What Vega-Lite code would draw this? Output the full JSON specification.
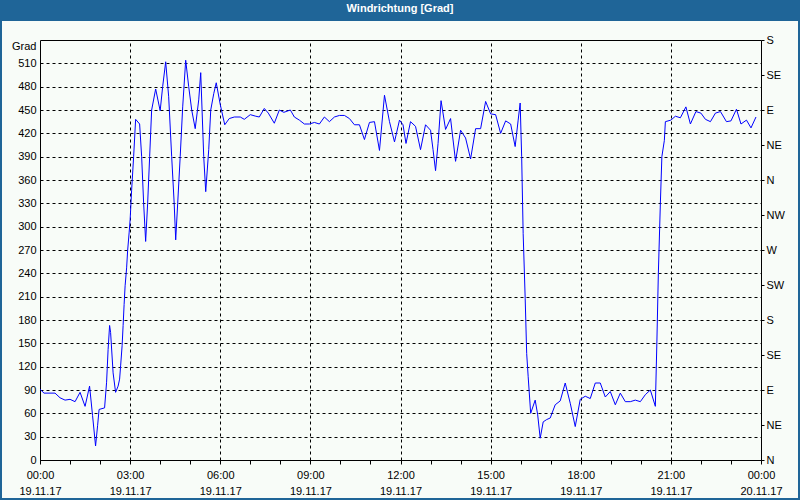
{
  "$schema": "https://vega.github.io/schema/vega-lite/v6.json",
  "background": "#1f6598",
  "autosize": {"type": "none"},
  "padding": {"left": 2, "right": 2, "top": 21, "bottom": 2},
  "width": 796,
  "height": 477,
  "view": {"fill": "#f8fcf8", "stroke": null},
  "config": {"font": "Liberation Sans"},
  "title": {
    "text": "Windrichtung [Grad]",
    "color": "white", "font": "Liberation Sans", "fontSize": 11, "fontWeight": "bold",
    "anchor": "middle", "baseline": "middle", "offset": 1
  },
  "data": {"values": [
    {"t": "2017-11-19T00:00:00", "v": 91},
    {"t": "2017-11-19T00:08:00", "v": 86},
    {"t": "2017-11-19T00:30:00", "v": 86},
    {"t": "2017-11-19T00:40:00", "v": 80},
    {"t": "2017-11-19T00:50:00", "v": 77},
    {"t": "2017-11-19T01:00:00", "v": 78},
    {"t": "2017-11-19T01:10:00", "v": 75},
    {"t": "2017-11-19T01:20:00", "v": 87},
    {"t": "2017-11-19T01:30:00", "v": 69},
    {"t": "2017-11-19T01:39:00", "v": 95},
    {"t": "2017-11-19T01:45:00", "v": 57},
    {"t": "2017-11-19T01:51:00", "v": 18},
    {"t": "2017-11-19T01:55:00", "v": 44},
    {"t": "2017-11-19T01:58:00", "v": 65},
    {"t": "2017-11-19T02:09:00", "v": 67},
    {"t": "2017-11-19T02:13:00", "v": 100},
    {"t": "2017-11-19T02:16:00", "v": 142},
    {"t": "2017-11-19T02:19:00", "v": 173},
    {"t": "2017-11-19T02:21:00", "v": 164},
    {"t": "2017-11-19T02:26:00", "v": 112},
    {"t": "2017-11-19T02:31:00", "v": 87},
    {"t": "2017-11-19T02:36:00", "v": 95},
    {"t": "2017-11-19T02:39:00", "v": 104},
    {"t": "2017-11-19T02:41:00", "v": 121},
    {"t": "2017-11-19T02:44:00", "v": 147},
    {"t": "2017-11-19T02:46:00", "v": 173},
    {"t": "2017-11-19T02:48:00", "v": 200},
    {"t": "2017-11-19T02:50:00", "v": 224},
    {"t": "2017-11-19T02:53:00", "v": 247},
    {"t": "2017-11-19T02:55:00", "v": 269},
    {"t": "2017-11-19T02:58:00", "v": 292},
    {"t": "2017-11-19T03:00:00", "v": 309},
    {"t": "2017-11-19T03:03:00", "v": 347},
    {"t": "2017-11-19T03:07:00", "v": 390},
    {"t": "2017-11-19T03:11:00", "v": 438},
    {"t": "2017-11-19T03:19:00", "v": 432},
    {"t": "2017-11-19T03:23:00", "v": 390},
    {"t": "2017-11-19T03:27:00", "v": 330},
    {"t": "2017-11-19T03:31:00", "v": 281},
    {"t": "2017-11-19T03:35:00", "v": 330},
    {"t": "2017-11-19T03:39:00", "v": 390},
    {"t": "2017-11-19T03:43:00", "v": 450},
    {"t": "2017-11-19T03:51:00", "v": 477},
    {"t": "2017-11-19T04:00:00", "v": 449},
    {"t": "2017-11-19T04:05:00", "v": 480},
    {"t": "2017-11-19T04:11:00", "v": 512},
    {"t": "2017-11-19T04:17:00", "v": 467},
    {"t": "2017-11-19T04:23:00", "v": 390},
    {"t": "2017-11-19T04:28:00", "v": 330},
    {"t": "2017-11-19T04:31:00", "v": 283},
    {"t": "2017-11-19T04:35:00", "v": 330},
    {"t": "2017-11-19T04:40:00", "v": 390},
    {"t": "2017-11-19T04:45:00", "v": 454},
    {"t": "2017-11-19T04:51:00", "v": 514},
    {"t": "2017-11-19T04:57:00", "v": 480},
    {"t": "2017-11-19T05:03:00", "v": 450},
    {"t": "2017-11-19T05:10:00", "v": 426},
    {"t": "2017-11-19T05:17:00", "v": 463},
    {"t": "2017-11-19T05:21:00", "v": 498},
    {"t": "2017-11-19T05:27:00", "v": 390},
    {"t": "2017-11-19T05:31:00", "v": 345},
    {"t": "2017-11-19T05:37:00", "v": 399},
    {"t": "2017-11-19T05:41:00", "v": 450},
    {"t": "2017-11-19T05:47:00", "v": 471},
    {"t": "2017-11-19T05:52:00", "v": 485},
    {"t": "2017-11-19T06:00:00", "v": 457},
    {"t": "2017-11-19T06:09:00", "v": 431},
    {"t": "2017-11-19T06:18:00", "v": 439},
    {"t": "2017-11-19T06:28:00", "v": 441},
    {"t": "2017-11-19T06:40:00", "v": 441},
    {"t": "2017-11-19T06:48:00", "v": 438},
    {"t": "2017-11-19T07:00:00", "v": 444},
    {"t": "2017-11-19T07:11:00", "v": 442},
    {"t": "2017-11-19T07:18:00", "v": 441},
    {"t": "2017-11-19T07:28:00", "v": 452},
    {"t": "2017-11-19T07:36:00", "v": 446},
    {"t": "2017-11-19T07:48:00", "v": 433},
    {"t": "2017-11-19T07:58:00", "v": 450},
    {"t": "2017-11-19T08:07:00", "v": 447},
    {"t": "2017-11-19T08:20:00", "v": 450},
    {"t": "2017-11-19T08:28:00", "v": 441},
    {"t": "2017-11-19T08:38:00", "v": 437},
    {"t": "2017-11-19T08:48:00", "v": 432},
    {"t": "2017-11-19T08:58:00", "v": 432},
    {"t": "2017-11-19T09:08:00", "v": 434},
    {"t": "2017-11-19T09:18:00", "v": 432},
    {"t": "2017-11-19T09:28:00", "v": 441},
    {"t": "2017-11-19T09:38:00", "v": 435},
    {"t": "2017-11-19T09:48:00", "v": 441},
    {"t": "2017-11-19T09:58:00", "v": 443},
    {"t": "2017-11-19T10:08:00", "v": 443},
    {"t": "2017-11-19T10:18:00", "v": 439},
    {"t": "2017-11-19T10:28:00", "v": 431},
    {"t": "2017-11-19T10:38:00", "v": 431},
    {"t": "2017-11-19T10:48:00", "v": 412},
    {"t": "2017-11-19T10:58:00", "v": 434},
    {"t": "2017-11-19T11:08:00", "v": 435},
    {"t": "2017-11-19T11:18:00", "v": 398},
    {"t": "2017-11-19T11:28:00", "v": 469},
    {"t": "2017-11-19T11:38:00", "v": 435},
    {"t": "2017-11-19T11:48:00", "v": 409},
    {"t": "2017-11-19T11:58:00", "v": 437},
    {"t": "2017-11-19T12:05:00", "v": 431},
    {"t": "2017-11-19T12:11:00", "v": 407},
    {"t": "2017-11-19T12:20:00", "v": 435},
    {"t": "2017-11-19T12:30:00", "v": 429},
    {"t": "2017-11-19T12:40:00", "v": 399},
    {"t": "2017-11-19T12:50:00", "v": 431},
    {"t": "2017-11-19T13:00:00", "v": 424},
    {"t": "2017-11-19T13:05:00", "v": 399},
    {"t": "2017-11-19T13:10:00", "v": 372},
    {"t": "2017-11-19T13:15:00", "v": 407},
    {"t": "2017-11-19T13:21:00", "v": 462},
    {"t": "2017-11-19T13:30:00", "v": 425},
    {"t": "2017-11-19T13:40:00", "v": 439},
    {"t": "2017-11-19T13:50:00", "v": 384},
    {"t": "2017-11-19T14:00:00", "v": 424},
    {"t": "2017-11-19T14:10:00", "v": 414},
    {"t": "2017-11-19T14:20:00", "v": 387},
    {"t": "2017-11-19T14:30:00", "v": 426},
    {"t": "2017-11-19T14:40:00", "v": 426},
    {"t": "2017-11-19T14:50:00", "v": 461},
    {"t": "2017-11-19T15:00:00", "v": 445},
    {"t": "2017-11-19T15:10:00", "v": 444},
    {"t": "2017-11-19T15:20:00", "v": 420},
    {"t": "2017-11-19T15:30:00", "v": 436},
    {"t": "2017-11-19T15:40:00", "v": 432},
    {"t": "2017-11-19T15:49:00", "v": 403},
    {"t": "2017-11-19T15:52:00", "v": 420},
    {"t": "2017-11-19T15:55:00", "v": 437},
    {"t": "2017-11-19T15:59:00", "v": 459},
    {"t": "2017-11-19T16:02:00", "v": 390},
    {"t": "2017-11-19T16:05:00", "v": 291},
    {"t": "2017-11-19T16:09:00", "v": 208},
    {"t": "2017-11-19T16:12:00", "v": 137},
    {"t": "2017-11-19T16:15:00", "v": 107},
    {"t": "2017-11-19T16:20:00", "v": 60},
    {"t": "2017-11-19T16:29:00", "v": 77},
    {"t": "2017-11-19T16:34:00", "v": 58},
    {"t": "2017-11-19T16:39:00", "v": 28},
    {"t": "2017-11-19T16:45:00", "v": 49},
    {"t": "2017-11-19T16:52:00", "v": 52},
    {"t": "2017-11-19T16:59:00", "v": 54},
    {"t": "2017-11-19T17:09:00", "v": 71},
    {"t": "2017-11-19T17:19:00", "v": 76},
    {"t": "2017-11-19T17:29:00", "v": 99},
    {"t": "2017-11-19T17:39:00", "v": 73},
    {"t": "2017-11-19T17:49:00", "v": 43},
    {"t": "2017-11-19T17:59:00", "v": 78},
    {"t": "2017-11-19T18:09:00", "v": 82},
    {"t": "2017-11-19T18:19:00", "v": 79},
    {"t": "2017-11-19T18:29:00", "v": 99},
    {"t": "2017-11-19T18:39:00", "v": 99},
    {"t": "2017-11-19T18:49:00", "v": 81},
    {"t": "2017-11-19T18:59:00", "v": 88},
    {"t": "2017-11-19T19:09:00", "v": 71},
    {"t": "2017-11-19T19:19:00", "v": 86},
    {"t": "2017-11-19T19:29:00", "v": 75},
    {"t": "2017-11-19T19:39:00", "v": 75},
    {"t": "2017-11-19T19:49:00", "v": 77},
    {"t": "2017-11-19T19:59:00", "v": 75},
    {"t": "2017-11-19T20:09:00", "v": 84},
    {"t": "2017-11-19T20:19:00", "v": 90},
    {"t": "2017-11-19T20:29:00", "v": 69},
    {"t": "2017-11-19T20:32:00", "v": 150},
    {"t": "2017-11-19T20:35:00", "v": 240},
    {"t": "2017-11-19T20:39:00", "v": 330},
    {"t": "2017-11-19T20:42:00", "v": 390},
    {"t": "2017-11-19T20:47:00", "v": 411},
    {"t": "2017-11-19T20:49:00", "v": 435},
    {"t": "2017-11-19T21:00:00", "v": 437},
    {"t": "2017-11-19T21:09:00", "v": 442},
    {"t": "2017-11-19T21:19:00", "v": 440},
    {"t": "2017-11-19T21:30:00", "v": 454},
    {"t": "2017-11-19T21:39:00", "v": 432},
    {"t": "2017-11-19T21:50:00", "v": 448},
    {"t": "2017-11-19T22:00:00", "v": 446},
    {"t": "2017-11-19T22:09:00", "v": 438},
    {"t": "2017-11-19T22:19:00", "v": 435},
    {"t": "2017-11-19T22:29:00", "v": 446},
    {"t": "2017-11-19T22:39:00", "v": 448},
    {"t": "2017-11-19T22:51:00", "v": 435},
    {"t": "2017-11-19T23:00:00", "v": 436},
    {"t": "2017-11-19T23:11:00", "v": 451},
    {"t": "2017-11-19T23:20:00", "v": 432},
    {"t": "2017-11-19T23:31:00", "v": 437},
    {"t": "2017-11-19T23:40:00", "v": 427},
    {"t": "2017-11-19T23:50:00", "v": 441}
  ]},
  "layer": [
    {
      "mark": {"type": "line", "color": "#0000ff", "strokeWidth": 1},
      "encoding": {
        "x": {
          "field": "t", "type": "temporal",
          "scale": {"domain": [{"year": 2017, "month": 11, "date": 19, "hours": 0}, {"year": 2017, "month": 11, "date": 20, "hours": 0}], "range": [38, 759], "nice": false},
          "axis": {
            "orient": "bottom", "offset": -38, "title": null, "tickCount": 24,
            "grid": false, "domain": true, "domainColor": "black",
            "ticks": true, "tickColor": "black", "tickSize": 4, "labels": false
          }
        },
        "y": {
          "field": "v", "type": "quantitative",
          "scale": {"domain": [0, 540], "range": [439, 19], "nice": false, "zero": false},
          "axis": {
            "orient": "left", "offset": -38,
            "values": [0, 30, 60, 90, 120, 150, 180, 210, 240, 270, 300, 330, 360, 390, 420, 450, 480, 510],
            "grid": true, "gridColor": "black", "gridDash": [3, 3], "gridOpacity": 1,
            "domain": true, "domainColor": "black",
            "ticks": false, "labelPadding": 4,
            "labelFontSize": 11, "labelColor": "black", "labelFlush": false, "labelOverlap": false,
            "title": "Grad", "titleAngle": 0, "titleX": -4, "titleY": 25, "titleAlign": "right", "titleBaseline": "middle",
            "titleFontSize": 11, "titleFontWeight": "normal", "titleColor": "black"
          }
        }
      }
    },
    {
      "mark": {"type": "line", "opacity": 0},
      "encoding": {
        "x": {
          "field": "t", "type": "temporal",
          "axis": {
            "orient": "top", "offset": -19, "title": null, "tickCount": 8,
            "grid": true, "gridColor": "black", "gridDash": [3, 3], "gridOpacity": 1,
            "domain": true, "domainColor": "black",
            "ticks": false, "labels": false
          }
        },
        "y": {
          "field": "v", "type": "quantitative",
          "axis": {
            "orient": "right", "offset": -37, "title": null,
            "values": [0, 45, 90, 135, 180, 225, 270, 315, 360, 405, 450, 495, 540],
            "labelExpr": "(datum.value == 0 || datum.value == 360) ? 'N' : (datum.value == 45 || datum.value == 405) ? 'NE' : (datum.value == 90 || datum.value == 450) ? 'E' : (datum.value == 135 || datum.value == 495) ? 'SE' : (datum.value == 180 || datum.value == 540) ? 'S' : datum.value == 225 ? 'SW' : datum.value == 270 ? 'W' : 'NW'",
            "grid": false, "domain": true, "domainColor": "black",
            "ticks": true, "tickColor": "black", "tickSize": 3, "labelPadding": 2,
            "labelFontSize": 11, "labelColor": "black", "labelFlush": false, "labelOverlap": false
          }
        }
      }
    },
    {
      "mark": {"type": "line", "opacity": 0},
      "encoding": {
        "x": {
          "field": "t", "type": "temporal",
          "axis": {
            "orient": "bottom", "offset": -38, "title": null, "tickCount": 8, "format": "%H:%M",
            "grid": false, "domain": false, "ticks": false,
            "labelOverlap": false, "labelFlush": false,
            "labelFontSize": 11, "labelColor": "black", "labelPadding": 9, "labelBaseline": "top"
          }
        },
        "y": {"field": "v", "type": "quantitative", "axis": null}
      }
    },
    {
      "mark": {"type": "line", "opacity": 0},
      "encoding": {
        "x": {
          "field": "t", "type": "temporal",
          "axis": {
            "orient": "bottom", "offset": -38, "title": null, "tickCount": 8, "format": "%d.%m.%y",
            "grid": false, "domain": false, "ticks": false,
            "labelOverlap": false, "labelFlush": false,
            "labelFontSize": 11, "labelColor": "black", "labelPadding": 25, "labelBaseline": "top"
          }
        },
        "y": {"field": "v", "type": "quantitative", "axis": null}
      }
    }
  ],
  "resolve": {"axis": {"x": "independent", "y": "independent"}}
}
